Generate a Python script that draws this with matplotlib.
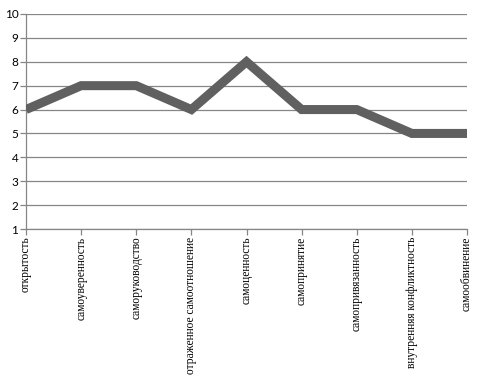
import matplotlib.pyplot as plt
import numpy as np

categories = ["открытость", "самоуверенность", "саморуководство",
              "отраженное самоотношение", "самоценность", "самопринятие",
              "самопривязанность", "внутренняя конфликтность", "самообвинение"]
values = [6, 7, 7, 6, 8, 6, 6, 5, 5]
y_ticks = [1, 2, 3, 4, 5, 6, 7, 8, 9, 10]

fig = plt.figure(figsize=(4.91, 3.86), dpi=100)
ax = fig.add_axes([26 / 491, 1 - 229 / 386, (467 - 26) / 491, (229 - 14) / 386])

x = np.arange(len(categories))
ax.plot(x, values, color='#606060', linewidth=6.5, solid_joinstyle='miter',
        solid_capstyle='butt', zorder=3)

ax.set_xlim(0, len(categories) - 1)
ax.set_ylim(1, 10)
ax.set_yticks(y_ticks)
ax.set_xticks(x)
ax.set_xticklabels(categories, rotation=90, fontfamily='Liberation Serif',
                   fontsize=8.3, va='top')
for lbl in ax.get_yticklabels():
    lbl.set_fontfamily('Lato')
    lbl.set_fontsize(8.5)

ax.grid(axis='y', color='#868686', linewidth=0.9)
ax.set_axisbelow(True)
for side in ['top', 'right']:
    ax.spines[side].set_visible(False)
for side in ['left', 'bottom']:
    ax.spines[side].set_color('#868686')
    ax.spines[side].set_linewidth(0.9)
ax.tick_params(axis='both', colors='#868686', length=4, width=0.9,
               labelcolor='black', pad=1.5)

fig.savefig('out.png', dpi=100)
